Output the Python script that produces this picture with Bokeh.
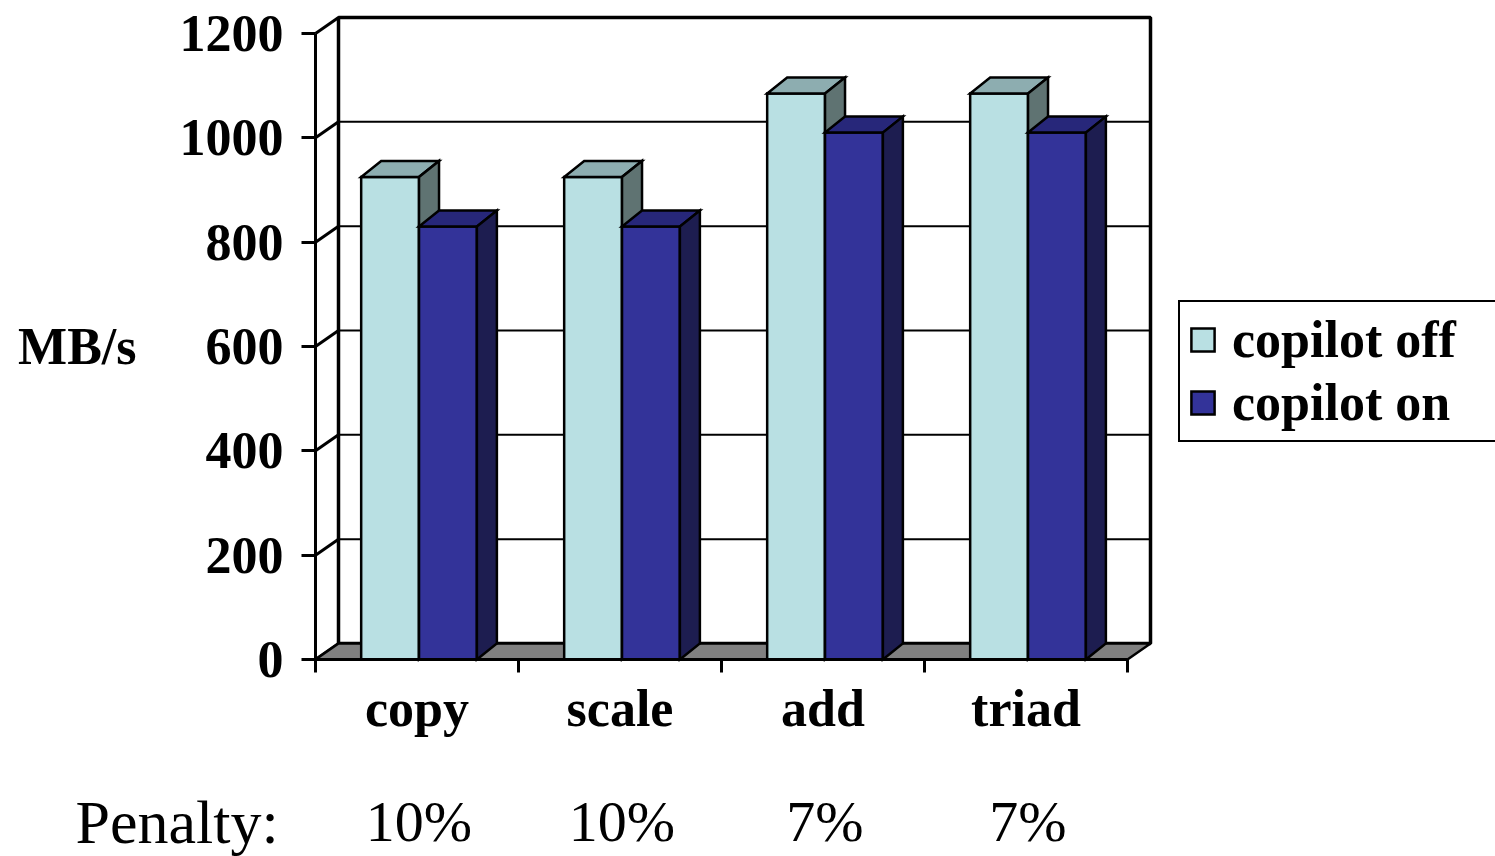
from bokeh.plotting import figure
from bokeh.models import (FixedTicker, Range1d, ColumnDataSource, Legend, LegendItem)
from bokeh.core.properties import value
from bokeh.embed import file_html
from bokeh.resources import INLINE

# ---------------- data ----------------
categories = ["copy", "scale", "add", "triad"]
series_names = ["copilot off", "copilot on"]
copilot_off = [925, 925, 1085, 1085]
copilot_on = [830, 830, 1010, 1010]
penalty_labels = ["10%", "10%", "7%", "7%"]
penalty_title = "Penalty:"
y_ticks = [0, 200, 400, 600, 800, 1000, 1200]
y_title = "MB/s"

# ---------------- layout / style (pixels) ----------------
W, H = 1495, 856
ORIGIN_X, ORIGIN_Y = 315, 659        # front-left-bottom corner of the chart
TOP_Y = 17                           # top of back wall
RIGHT_X = 1150                       # right of back wall
WALL_DX_PX, WALL_DY_PX = 23, 16
BAR_DX_PX, BAR_DY_PX = 20, 16
BAR_W = 0.285
BAR_SHIFT = 0.01
FONT = "Liberation Serif"
BIG = "52px"
PEN_Y = 821
PEN_TITLE_X = 75

off_cols = ("#B9E0E3", "#8DADB0", "#5F7372")   # front, top, side
on_cols = ("#333399", "#27277A", "#1D1D50")

n = len(categories)
y_max = max(y_ticks)
x_px = (RIGHT_X - ORIGIN_X - WALL_DX_PX) / n
y_px = (ORIGIN_Y - TOP_Y - WALL_DY_PX) / y_max
wdx, wdy = WALL_DX_PX / x_px, WALL_DY_PX / y_px
bdx, bdy = BAR_DX_PX / x_px, BAR_DY_PX / y_px

p = figure(width=W, height=H,
           x_range=Range1d(-ORIGIN_X / x_px, (W - ORIGIN_X) / x_px),
           y_range=Range1d(-(H - ORIGIN_Y) / y_px, ORIGIN_Y / y_px),
           output_backend="svg", toolbar_location=None, min_border=0)
p.outline_line_color = None
p.xgrid.visible = False
p.ygrid.visible = False
p.background_fill_color = "white"
p.border_fill_color = "white"

# back wall
p.quad(left=[wdx], right=[n + wdx], bottom=[wdy], top=[y_max + wdy],
       fill_color="white", line_color="black", line_width=3.5)
inner = y_ticks[1:-1]
p.segment(x0=[wdx] * len(inner), y0=[t + wdy for t in inner],
          x1=[n + wdx] * len(inner), y1=[t + wdy for t in inner],
          line_color="black", line_width=2)
# side wall grid (diagonals from front axis to back wall)
p.segment(x0=[0] * len(y_ticks), y0=y_ticks, x1=[wdx] * len(y_ticks),
          y1=[t + wdy for t in y_ticks], line_color="black", line_width=3)
# floor
p.patch([0, n, n + wdx, wdx], [0, 0, wdy, wdy], fill_color="#808080",
        line_color="black", line_width=2.5)


def faces(vals, side):
    fx, fy, tx, ty, sx, sy = [], [], [], [], [], []
    for i, v in enumerate(vals):
        c = i + 0.5 + BAR_SHIFT
        x0 = c - BAR_W if side == 0 else c
        x1 = x0 + BAR_W
        fx.append([x0, x1, x1, x0]); fy.append([0, 0, v, v])
        tx.append([x0, x1, x1 + bdx, x0 + bdx]); ty.append([v, v, v + bdy, v + bdy])
        sx.append([x1, x1 + bdx, x1 + bdx, x1]); sy.append([0, bdy, v + bdy, v])
    return (fx, fy), (tx, ty), (sx, sy)


legend_items = []
for s, (vals, cols) in enumerate([(copilot_off, off_cols), (copilot_on, on_cols)]):
    front, top, side = faces(vals, s)
    rf = p.patches(front[0], front[1], fill_color=cols[0], line_color="black",
                   line_width=2.5, line_join="miter")
    p.patches(top[0], top[1], fill_color=cols[1], line_color="black", line_width=2.5,
              line_join="miter")
    p.patches(side[0], side[1], fill_color=cols[2], line_color="black", line_width=2.5,
              line_join="miter")
    legend_items.append(LegendItem(label=series_names[s], renderers=[rf]))

# y axis (front), pinned at x = 0
ya = p.yaxis[0]
ya.fixed_location = 0
ya.ticker = FixedTicker(ticks=y_ticks, minor_ticks=[])
ya.bounds = (0, y_max)
ya.axis_line_width = 3
ya.major_tick_line_width = 3
ya.major_tick_out = 14
ya.major_tick_in = 0
ya.major_label_standoff = 18
ya.major_label_text_font = FONT
ya.major_label_text_font_style = "bold"
ya.major_label_text_font_size = BIG
ya.major_label_text_color = "black"
ya.axis_label = y_title
ya.axis_label_orientation = "horizontal"
ya.axis_label_text_font = FONT
ya.axis_label_text_font_style = "bold"
ya.axis_label_text_font_size = BIG
ya.axis_label_text_color = "black"
ya.axis_label_standoff = 40

# x axis (front), pinned at y = 0
xa = p.xaxis[0]
xa.fixed_location = 0
centers = [i + 0.5 for i in range(n)]
xa.ticker = FixedTicker(ticks=centers, minor_ticks=list(range(n + 1)))
xa.major_label_overrides = {c: cat for c, cat in zip(centers, categories)}
xa.bounds = (0, n)
xa.axis_line_width = 3
xa.major_tick_out = 0
xa.major_tick_in = 0
xa.minor_tick_out = 13
xa.minor_tick_in = 0
xa.minor_tick_line_width = 3
xa.minor_tick_line_color = "black"
xa.major_label_standoff = 7
xa.major_label_text_font = FONT
xa.major_label_text_font_style = "bold"
xa.major_label_text_font_size = BIG
xa.major_label_text_color = "black"

# penalty row
pen_y = -(PEN_Y - ORIGIN_Y) / y_px
pen_src = ColumnDataSource(dict(x=[c + BAR_SHIFT for c in centers],
                                y=[pen_y] * n, text=penalty_labels))
p.text(x="x", y="y", text="text", source=pen_src, text_align="center",
       text_baseline="alphabetic", text_font=value(FONT), text_font_size="58px",
       text_color="black")
p.text(x=[(PEN_TITLE_X - ORIGIN_X) / x_px], y=[pen_y], text=[penalty_title],
       text_align="left", text_baseline="alphabetic", text_font=value(FONT),
       text_font_size="62px", text_color="black")

# legend
leg = Legend(items=legend_items, location=(1178, H - 442), orientation="vertical")
leg.label_text_font = FONT
leg.label_text_font_style = "bold"
leg.label_text_font_size = BIG
leg.label_text_color = "black"
leg.glyph_width = 29
leg.glyph_height = 29
leg.label_standoff = 15
leg.label_width = 320
leg.padding = 8
leg.spacing = 4
leg.margin = 0
leg.border_line_color = "black"
leg.border_line_alpha = 1
leg.border_line_width = 2.5
leg.background_fill_color = "white"
leg.background_fill_alpha = 1
p.add_layout(leg)

open("out.html", "w").write(file_html(p, INLINE))
